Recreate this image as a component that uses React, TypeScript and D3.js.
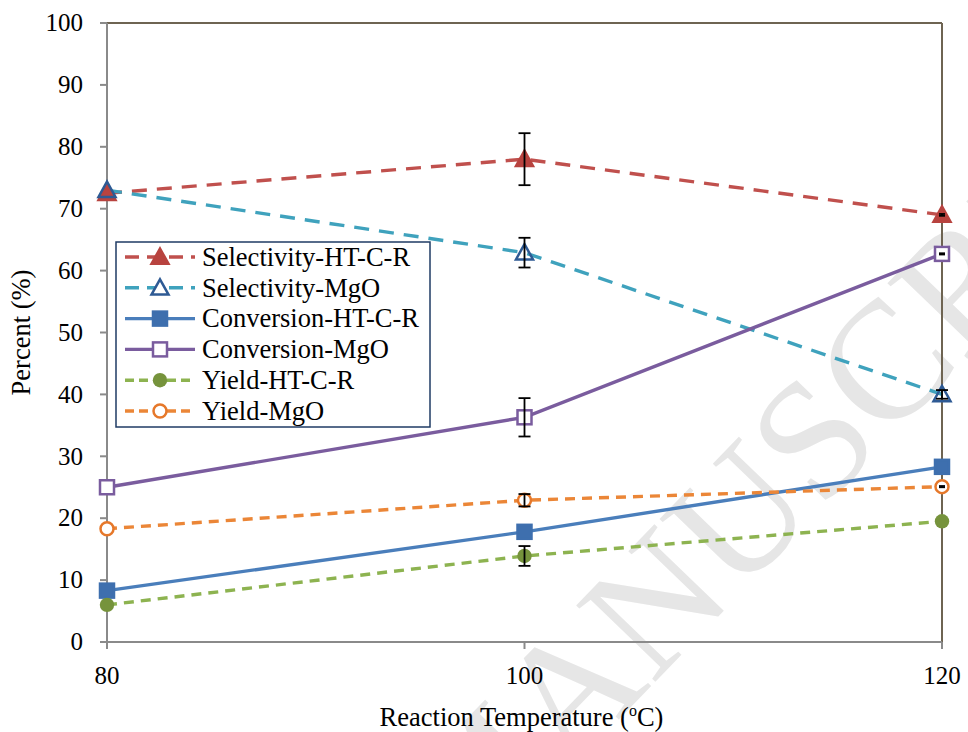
import React from "react";
import * as d3 from "d3";

const temperatures = [80, 100, 120];
const yTicks = [0, 10, 20, 30, 40, 50, 60, 70, 80, 90, 100];

const selectivityHT = [72.5, 78.0, 69.0];
const selectivityHTErr = [0, 4.2, 0.15];
const selectivityMgO = [73.0, 62.9, 40.0];
const selectivityMgOErr = [0, 2.4, 0.7];
const conversionHT = [8.3, 17.8, 28.3];
const conversionHTErr = [0, 0, 0];
const conversionMgO = [25.0, 36.3, 62.7];
const conversionMgOErr = [0, 3.1, 0.1];
const yieldHT = [6.0, 13.9, 19.5];
const yieldHTErr = [0, 1.6, 0];
const yieldMgO = [18.3, 22.9, 25.1];
const yieldMgOErr = [0, 1.0, 0.1];

type Marker = "triangle" | "square" | "circle";

interface Series {
  name: string;
  values: number[];
  errors: number[];
  line: string;
  markerStroke: string;
  markerFill: string;
  marker: Marker;
  dash: string | null;
}

const series: Series[] = [
  { name: "Selectivity-HT-C-R", values: selectivityHT, errors: selectivityHTErr, line: "#C0504D", markerStroke: "#B8433F", markerFill: "#B8433F", marker: "triangle", dash: "15,10" },
  { name: "Selectivity-MgO", values: selectivityMgO, errors: selectivityMgOErr, line: "#3FA2BD", markerStroke: "#2E5A94", markerFill: "none", marker: "triangle", dash: "15,10" },
  { name: "Conversion-HT-C-R", values: conversionHT, errors: conversionHTErr, line: "#4A7EBB", markerStroke: "#3E6FAE", markerFill: "#3E6FAE", marker: "square", dash: null },
  { name: "Conversion-MgO", values: conversionMgO, errors: conversionMgOErr, line: "#7A5C9E", markerStroke: "#7A5C9E", markerFill: "#ffffff", marker: "square", dash: null },
  { name: "Yield-HT-C-R", values: yieldHT, errors: yieldHTErr, line: "#8DB350", markerStroke: "#76933C", markerFill: "#76933C", marker: "circle", dash: "10,7" },
  { name: "Yield-MgO", values: yieldMgO, errors: yieldMgOErr, line: "#EB8637", markerStroke: "#E6782A", markerFill: "#ffffff", marker: "circle", dash: "10,7" },
];

const W = 968;
const H = 732;
const left = 107;
const right = 942;
const top = 23;
const bottom = 642;
const FONT = "'Liberation Serif', 'Times New Roman', serif";

function MarkerShape({ kind, cx, cy, stroke, fill }: { kind: Marker; cx: number; cy: number; stroke: string; fill: string }) {
  if (kind === "triangle") {
    const s = 8.5;
    const path = `M${cx},${cy - s} L${cx + s},${cy + s * 0.8} L${cx - s},${cy + s * 0.8} Z`;
    return <path d={path} fill={fill} stroke={stroke} strokeWidth={2.5} strokeLinejoin="miter" />;
  }
  if (kind === "square") {
    const s = 7;
    return <rect x={cx - s} y={cy - s} width={2 * s} height={2 * s} fill={fill} stroke={stroke} strokeWidth={2.5} />;
  }
  return <circle cx={cx} cy={cy} r={fill === "#ffffff" ? 6.5 : 7.2} fill={fill} stroke={stroke} strokeWidth={fill === "#ffffff" ? 2.5 : 0} />;
}

export default function App() {
  const x = d3.scaleLinear().domain([80, 120]).range([left, right]);
  const y = d3.scaleLinear().domain([0, 100]).range([bottom, top]);
  const line = d3
    .line<number>()
    .x((_, i) => x(temperatures[i]))
    .y((d) => y(d));

  const legendX = 116;
  const legendY = 242;
  const legendW = 314;
  const legendH = 185;
  const rowGap = 30.8;

  return (
    <svg width={W} height={H} style={{ display: "block", position: "absolute", left: 0, top: 0, background: "#fff" }}>
      {/* watermark */}
      <text
        x={464}
        y={880}
        transform="rotate(-46 464 880)"
        fontFamily={FONT}
        fontSize={168}
        fill="#e6e6e6"
      >
        MANUSCRIPT
      </text>

      {/* plot frame */}
      <line x1={left} x2={right} y1={top} y2={top} stroke="#6E6452" strokeWidth={2} />
      <line x1={right} x2={right} y1={top} y2={bottom} stroke="#6E6452" strokeWidth={2} />

      {/* axes */}
      <line x1={left} x2={left} y1={top} y2={bottom} stroke="#8A8A8A" strokeWidth={2} />
      <line x1={left} x2={right} y1={bottom} y2={bottom} stroke="#8A8A8A" strokeWidth={2} />
      {yTicks.map((t) => (
        <g key={`y${t}`}>
          <line x1={left - 7} x2={left} y1={y(t)} y2={y(t)} stroke="#8A8A8A" strokeWidth={2} />
          <text x={left - 24} y={y(t)} dy="0.33em" textAnchor="end" fontFamily={FONT} fontSize={25} fill="#000">
            {t}
          </text>
        </g>
      ))}
      {temperatures.map((t) => (
        <g key={`x${t}`}>
          <line x1={x(t)} x2={x(t)} y1={bottom} y2={bottom + 7} stroke="#8A8A8A" strokeWidth={2} />
          <text x={x(t)} y={bottom + 42} textAnchor="middle" fontFamily={FONT} fontSize={25} fill="#000">
            {t}
          </text>
        </g>
      ))}
      <text
        transform={`translate(30, ${(top + bottom) / 2}) rotate(-90)`}
        textAnchor="middle"
        fontFamily={FONT}
        fontSize={26.5}
        fill="#000"
      >
        Percent (%)
      </text>
      <text x={(left + right) / 2 - 3} y={726} textAnchor="middle" fontFamily={FONT} fontSize={26.5} fill="#000">
        Reaction Temperature (
        <tspan dy={-10} fontSize={16}>o</tspan>
        <tspan dy={10}>C)</tspan>
      </text>

      {/* series lines */}
      {series.map((s) => (
        <path
          key={`l${s.name}`}
          d={line(s.values) ?? ""}
          fill="none"
          stroke={s.line}
          strokeWidth={3.4}
          strokeDasharray={s.dash ?? undefined}
        />
      ))}

      {/* markers */}
      {series.map((s) =>
        s.values.map((v, i) => (
          <MarkerShape
            key={`m${s.name}${i}`}
            kind={s.marker}
            cx={x(temperatures[i])}
            cy={y(v)}
            stroke={s.markerStroke}
            fill={s.markerFill}
          />
        ))
      )}

      {/* error bars */}
      {series.map((s) =>
        s.values.map((v, i) => {
          const e = s.errors[i];
          if (!e) return null;
          const cx = x(temperatures[i]);
          const cap = e < 0.5 ? 3 : 6;
          return (
            <g key={`e${s.name}${i}`} stroke="#000" strokeWidth={1.8}>
              <line x1={cx} x2={cx} y1={y(v + e)} y2={y(v - e)} />
              <line x1={cx - cap} x2={cx + cap} y1={y(v + e)} y2={y(v + e)} />
              <line x1={cx - cap} x2={cx + cap} y1={y(v - e)} y2={y(v - e)} />
            </g>
          );
        })
      )}

      {/* legend */}
      <rect x={legendX} y={legendY} width={legendW} height={legendH} fill="#fff" stroke="#1F3B64" strokeWidth={1.5} />
      {series.map((s, i) => {
        const cy = legendY + 15 + i * rowGap;
        return (
          <g key={`lg${s.name}`}>
            <line
              x1={125}
              x2={195}
              y1={cy}
              y2={cy}
              stroke={s.line}
              strokeWidth={3.4}
              strokeDasharray={s.dash ? (s.marker === "circle" ? "9,5" : "14,8") : undefined}
            />
            <MarkerShape kind={s.marker} cx={160} cy={cy} stroke={s.markerStroke} fill={s.markerFill === "none" ? "#fff" : s.markerFill} />
            <text x={202} y={cy} dy="0.33em" fontFamily={FONT} fontSize={26.5} fill="#000">
              {s.name}
            </text>
          </g>
        );
      })}
    </svg>
  );
}
